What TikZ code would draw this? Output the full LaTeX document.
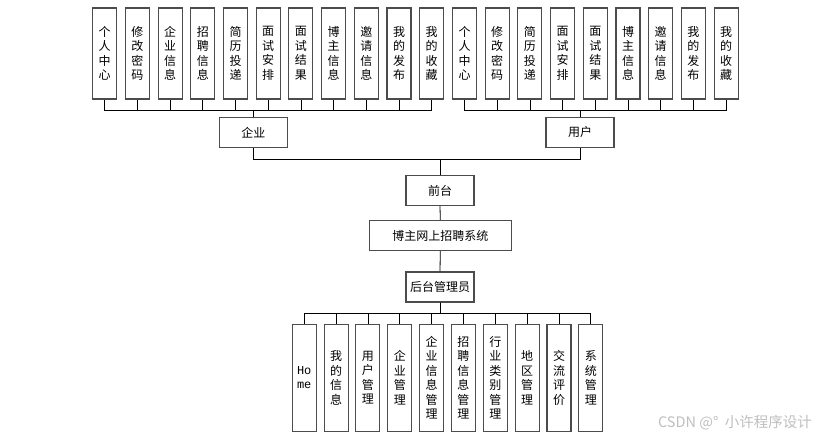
\documentclass[tikz,border=0pt]{standalone}
\usepackage{fontspec}
\setmainfont{Noto Sans CJK SC}
\newfontfamily\monofnt{Liberation Mono}
\begin{document}
\begin{tikzpicture}[x=1pt,y=-1pt,
  box/.style={draw=black!70,line width=1.1pt,rectangle,inner sep=0pt,fill=white,font=\fontsize{12}{14.5}\selectfont,align=center},
  vbox/.style={box,minimum width=24pt,minimum height=91pt},
  bbox/.style={box,minimum width=24pt,minimum height=107pt},
  hbox/.style={box,minimum width=68pt,minimum height=30pt},
  conn/.style={draw=black,line width=0.8pt}]
\path[fill=white] (0,0) rectangle (829,441);
\useasboundingbox (0,0) rectangle (829,441);
% left group
\foreach \t [count=\i from 0] in {个\\人\\中\\心,修\\改\\密\\码,企\\业\\信\\息,招\\聘\\信\\息,简\\历\\投\\递,面\\试\\安\\排,面\\试\\结\\果,博\\主\\信\\息,邀\\请\\信\\息,我\\的\\发\\布,我\\的\\收\\藏}
  \node[vbox] (L\i) at ({104.7+32.7*\i},53.5) {\t};
% right group
\foreach \t [count=\i from 0] in {个\\人\\中\\心,修\\改\\密\\码,简\\历\\投\\递,面\\试\\安\\排,面\\试\\结\\果,博\\主\\信\\息,邀\\请\\信\\息,我\\的\\发\\布,我\\的\\收\\藏}
  \node[vbox] (R\i) at ({464.5+32.7*\i},53.5) {\t};
\node[hbox] (qy) at (253.3,132.3) {企业};
\node[hbox] (yh) at (580,132.3) {用户};
\node[hbox] (qt) at (440,190.5) {前台};
\node[box,minimum width=142pt,minimum height=30pt] (sys) at (440.3,235.5) {博主网上招聘系统};
\node[hbox] (ht) at (440,287) {后台管理员};
% bottom group
\node[bbox] (B0) at (304.2,377.7) {\monofnt Ho\\\monofnt me};
\foreach \t [count=\i from 1] in {我\\的\\信\\息,用\\户\\管\\理,企\\业\\管\\理,企\\业\\信\\息\\管\\理,招\\聘\\信\\息\\管\\理,行\\业\\类\\别\\管\\理,地\\区\\管\\理,交\\流\\评\\价,系\\统\\管\\理}
  \node[bbox] (B\i) at ({304.2+31.85*\i},377.7) {\t};
% connectors
\foreach \i in {0,...,10} \draw[conn] (qy.north) -- ++(0,-6.3) -| (L\i.south);
\foreach \i in {0,...,8} \draw[conn] (yh.north) -- ++(0,-6.3) -| (R\i.south);
\draw[conn] (qy.south) -- ++(0,12) -| (qt.north);
\draw[conn] (yh.south) -- ++(0,12) -| (qt.north);
\draw[conn] (qt.south) -- (sys.north);
\draw[conn] (sys.south) -- (ht.north);
\foreach \i in {0,...,9} \draw[conn] (ht.south) -- ++(0,11) -| (B\i.north);
\node[text=black!25,font=\fontsize{14.5}{16}\selectfont,anchor=center] (wm) at (735,423) {CSDN @°\ \ 小许程序设计};
\end{tikzpicture}
\end{document}
